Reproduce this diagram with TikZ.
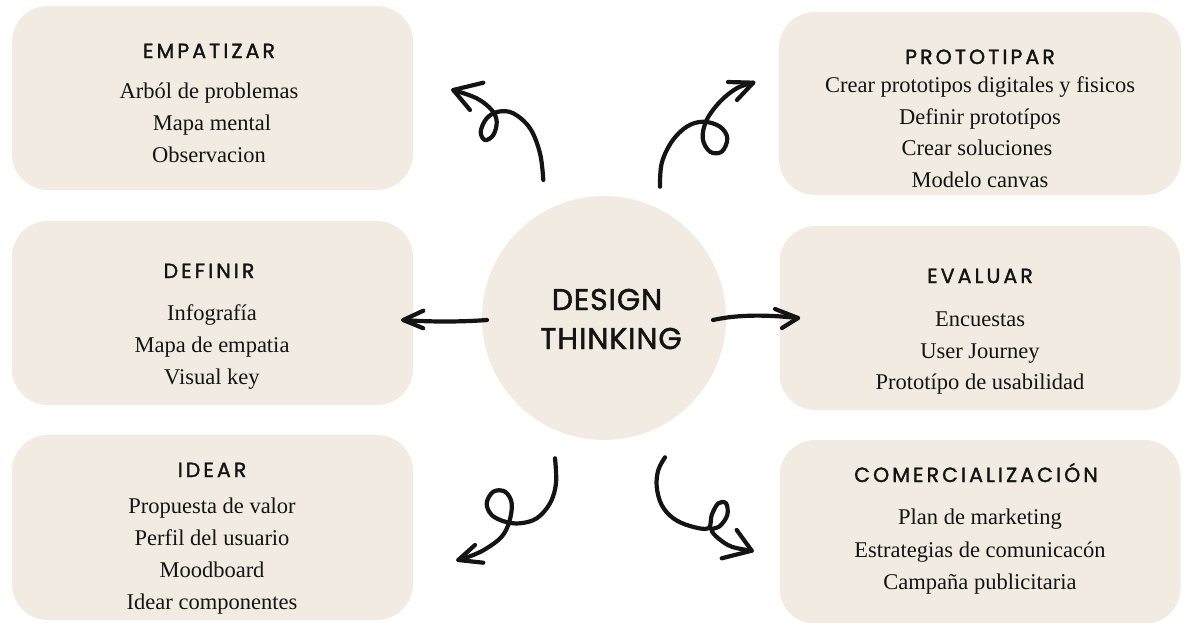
\documentclass[tikz,border=0pt]{standalone}
\usepackage{fontspec}
\setmainfont{Liberation Serif}
\newfontfamily\headfont{Poppins}[LetterSpace=15, FakeBold=1.6]
\newfontfamily\bigfont{Poppins}[LetterSpace=3, FakeBold=1.6]
\definecolor{beige}{HTML}{F2EBE2}
\definecolor{ink}{HTML}{141414}
\tikzset{
  box/.style={fill=beige, rounded corners=36pt, minimum width=401pt, minimum height=184pt, inner sep=0pt},
  head/.style={font=\headfont\fontsize{20.5}{26}\selectfont, anchor=base, text=ink, inner sep=0pt},
  item/.style={font=\fontsize{22.5}{26}\selectfont, anchor=base, text=ink, inner sep=0pt},
  big/.style={font=\bigfont\fontsize{30}{34}\selectfont, anchor=base, text=ink, inner sep=0pt},
  arr/.style={draw=ink, line width=4.2pt, line cap=round, line join=round},
}
\begin{document}
\begin{tikzpicture}[x=1pt,y=-1pt]
\useasboundingbox (0,0) rectangle (1184,622);
% boxes
\node[box] (b1) at (212.5,98) {};
\node[box] (b2) at (212.5,313) {};
\node[box, minimum height=185pt] (b3) at (212.5,527.5) {};
\node[box, minimum width=402pt, minimum height=183pt] (b4) at (980,103.5) {};
\node[box] (b5) at (980,318) {};
\node[box] (b6) at (980,532) {};
\node[circle, fill=beige, minimum size=244pt, inner sep=0pt] (c) at (604,318) {};
% center text
\node[big] (t1) at (607,310) {DESIGN};
\node[big] (t2) at (611,349) {THINKING};
% EMPATIZAR
\node[head] (h1) at (209,58) {EMPATIZAR};
\node[item] (i11) at (209,98) {Arból de problemas};
\node[item] (i12) at (212,130) {Mapa mental};
\node[item] (i13) at (209,162) {Observacion};
% DEFINIR
\node[head] (h2) at (209,278) {DEFINIR};
\node[item] (i21) at (212,320) {Infografía};
\node[item] (i22) at (212,352) {Mapa de empatia};
\node[item] (i23) at (212,384) {Visual key};
% IDEAR
\node[head] (h3) at (212,477) {IDEAR};
\node[item] (i31) at (212,513) {Propuesta de valor};
\node[item] (i32) at (212,545) {Perfil del usuario};
\node[item] (i33) at (212,577) {Moodboard};
\node[item] (i34) at (212,609) {Idear componentes};
% PROTOTIPAR
\node[head] (h4) at (980,64) {PROTOTIPAR};
\node[item] (i41) at (980,92) {Crear prototipos digitales y fisicos};
\node[item] (i42) at (980,124) {Definir prototípos};
\node[item] (i43) at (977,155) {Crear soluciones};
\node[item] (i44) at (980,187) {Modelo canvas};
% EVALUAR
\node[head] (h5) at (980,283) {EVALUAR};
\node[item] (i51) at (980,326) {Encuestas};
\node[item] (i52) at (980,358) {User Journey};
\node[item] (i53) at (980,389) {Prototípo de usabilidad};
% COMERCIALIZACION
\node[head] (h6) at (976,482) {COMERCIALIZACIÓN};
\node[item] (i61) at (980,524) {Plan de marketing};
\node[item] (i62) at (980,557) {Estrategias de comunicacón};
\node[item] (i63) at (980,589) {Campaña publicitaria};
% arrow end coordinates
\coordinate (s1) at (543.3,180);  \coordinate (e1) at (453.3,90);
\coordinate (s2) at (660,186.7);  \coordinate (e2) at (753.3,82.7);
\coordinate (s3) at (487,320);    \coordinate (e3) at (403.3,320);
\coordinate (s4) at (713,320);    \coordinate (e4) at (798,318);
\coordinate (s5) at (555,458.3);  \coordinate (e5) at (458.3,560);
\coordinate (s6) at (665,457.3);  \coordinate (e6) at (751.7,550.7);
% arrow 1 (to EMPATIZAR)
\draw[arr] plot[smooth, tension=0.6] coordinates {(s1) (540,153.3) (530,128.3) (513.3,113.3) (498.3,111.7) (486.7,118.3) (480.7,131.7) (485,140) (493.3,135) (496.7,121.7) (491.7,110) (476.7,98.3) (e1)};
\draw[arr] (483.3,82.7) -- (e1) -- (470,110);
% arrow 2 (to PROTOTIPAR)
\draw[arr] plot[smooth, tension=0.6] coordinates {(s2) (661.7,163.3) (671.7,141.7) (686.7,126.7) (703.3,121.7) (720,126.7) (727.3,138.3) (721.7,151.7) (710,151.7) (702.7,138.3) (706.7,120) (720,101.7) (736.7,88.3) (e2)};
\draw[arr] (728,82) -- (e2) -- (737,100);
% arrow 3 (to DEFINIR)
\draw[arr] (s3) .. controls (460,322) and (430,322) .. (e3);
\draw[arr] (423.3,310.7) -- (e3) -- (423.3,328.3);
% arrow 4 (to EVALUAR)
\draw[arr] (s4) .. controls (740,314) and (770,315) .. (e4);
\draw[arr] (775,309) -- (e4) -- (782,328);
% arrow 5 (to IDEAR)
\draw[arr] plot[smooth, tension=0.6] coordinates {(s5) (556,483.3) (550,503.3) (536.7,518.3) (520,523.3) (505,521.7) (491.7,515) (486.7,503.3) (493.3,491.7) (505,491.7) (511.7,503.3) (509.3,521.7) (501.7,536.7) (486.7,548.3) (473.3,555) (e5)};
\draw[arr] (475,545) -- (e5) -- (483.3,562.7);
% arrow 6 (to COMERCIALIZACION)
\draw[arr] plot[smooth, tension=0.6] coordinates {(s6) (658.3,470) (656.7,486.7) (661.7,505) (673.3,518.3) (690,526) (708.3,528.3) (711.7,515) (718.3,503.3) (726,503.3) (727.3,515) (720,526) (711.7,530) (718.3,538.3) (731.7,546.7) (e6)};
\draw[arr] (736.7,530) -- (e6) -- (721.7,558.3);
\end{tikzpicture}
\end{document}
